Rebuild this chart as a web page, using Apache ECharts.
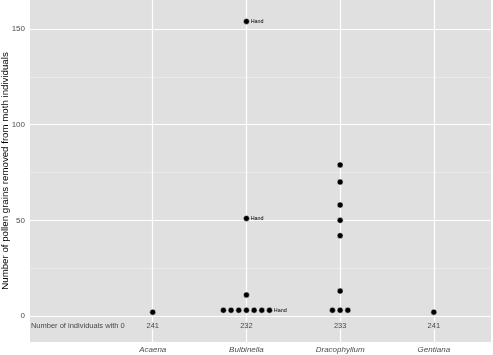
<!DOCTYPE html>
<html>
<head>
<meta charset="utf-8">
<script src="https://cdn.jsdelivr.net/npm/echarts@6/dist/echarts.min.js"></script>
<style>
  html, body { margin: 0; padding: 0; background: #fff; }
  #chart { width: 493px; height: 355px; }
</style>
</head>
<body>
<div id="chart"></div>
<script>
const species = ["Acaena", "Bulbinella", "Dracophyllum", "Gentiana"];
const zeroCounts = [241, 232, 233, 241];
const yTicks = [0, 50, 100, 150];
const yMinor = [25, 75, 125];

// grains per individual, dodge slot, and whether the point is labelled "Hand"
const acaenaGrains = [2];
const acaenaSlots = [0];
const acaenaHand = [0];

const bulbinellaGrains = [154, 51, 11, 3, 3, 3, 3, 3, 3, 3];
const bulbinellaSlots = [0, 0, 0, -3, -2, -1, 0, 1, 2, 3];
const bulbinellaHand = [1, 1, 0, 0, 0, 0, 0, 0, 0, 1];

const dracophyllumGrains = [79, 70, 58, 50, 42, 13, 3, 3, 3];
const dracophyllumSlots = [0, 0, 0, 0, 0, 0, -1, 0, 1];
const dracophyllumHand = [0, 0, 0, 0, 0, 0, 0, 0, 0];

const gentianaGrains = [2];
const gentianaSlots = [0];
const gentianaHand = [0];

const dodge = 0.082;
const font = "Liberation Sans, Arial, sans-serif";
const panel = "#E0E0E0";

const groups = [
  [acaenaGrains, acaenaSlots, acaenaHand],
  [bulbinellaGrains, bulbinellaSlots, bulbinellaHand],
  [dracophyllumGrains, dracophyllumSlots, dracophyllumHand],
  [gentianaGrains, gentianaSlots, gentianaHand]
];

const points = [];
groups.forEach(([grains, slots, hand], i) => {
  grains.forEach((g, j) => {
    const item = { value: [i + 1 + slots[j] * dodge, g] };
    if (hand[j]) item.label = { show: true };
    points.push(item);
  });
});

const chart = echarts.init(document.getElementById("chart"), null, { renderer: "canvas" });

chart.setOption({
  animation: false,
  grid: {
    left: 30, right: 2, top: 0, bottom: 13,
    outerBoundsMode: "none", containLabel: false,
    show: true, backgroundColor: panel, borderWidth: 0
  },
  xAxis: {
    type: "value",
    min: -0.31,
    max: 4.61,
    axisLine: { show: false },
    splitLine: { show: false },
    axisTick: { show: true, length: 3, lineStyle: { color: "#333", width: 1 }, customValues: [1, 2, 3, 4] },
    axisLabel: {
      customValues: [1, 2, 3, 4],
      formatter: v => species[Math.round(v) - 1],
      fontSize: 8,
      fontStyle: "italic",
      fontFamily: font,
      color: "#4D4D4D",
      margin: 4
    }
  },
  yAxis: {
    type: "value",
    min: -13.6,
    max: 165.2,
    name: "Number of pollen grains removed from moth individuals",
    nameLocation: "middle",
    nameGap: 20,
    nameMoveOverlap: false,
    nameTextStyle: { fontSize: 9.7, fontFamily: font, color: "#000" },
    axisLine: { show: false },
    splitLine: { show: false },
    axisTick: { show: true, length: 3, lineStyle: { color: "#333", width: 1 }, customValues: yTicks },
    axisLabel: {
      customValues: yTicks,
      fontSize: 8,
      fontFamily: font,
      color: "#4D4D4D",
      margin: 5
    }
  },
  series: [
    {
      type: "scatter",
      data: [],
      z: 1,
      silent: true,
      markLine: {
        silent: true,
        symbol: "none",
        label: { show: false },
        animation: false,
        data: [
          ...yMinor.map(v => ({ yAxis: v, lineStyle: { color: "#F0F0F0", width: 0.6, type: "solid" } })),
          ...yTicks.map(v => ({ yAxis: v, lineStyle: { color: "#FFFFFF", width: 1.2, type: "solid" } })),
          ...species.map((s, i) => ({ xAxis: i + 1, lineStyle: { color: "#FFFFFF", width: 1.2, type: "solid" } }))
        ]
      }
    },
    {
      type: "scatter",
      zlevel: 1,
      symbol: "circle",
      symbolSize: 6,
      itemStyle: { color: "#000", borderColor: "#fff", borderWidth: 0.5, opacity: 1 },
      label: {
        show: false,
        position: "right",
        distance: 1,
        formatter: "Hand",
        fontSize: 5.4,
        fontFamily: font,
        color: "#000"
      },
      data: points
    },
    {
      type: "scatter",
      zlevel: 1,
      symbolSize: 0,
      silent: true,
      label: {
        show: true,
        position: "inside",
        formatter: p => p.value[2],
        fontSize: 7.5,
        fontFamily: font,
        color: "#1A1A1A",
        backgroundColor: panel,
        padding: [0, 1]
      },
      data: zeroCounts.map((c, i) => [i + 1, -5, c])
    },
    {
      type: "scatter",
      zlevel: 1,
      symbolSize: 0,
      silent: true,
      label: {
        show: true,
        position: "inside",
        align: "left",
        formatter: "Number of individuals with 0",
        fontSize: 7.5,
        fontFamily: font,
        color: "#1A1A1A"
      },
      data: [[-0.3, -5]]
    }
  ]
});
</script>
</body>
</html>
